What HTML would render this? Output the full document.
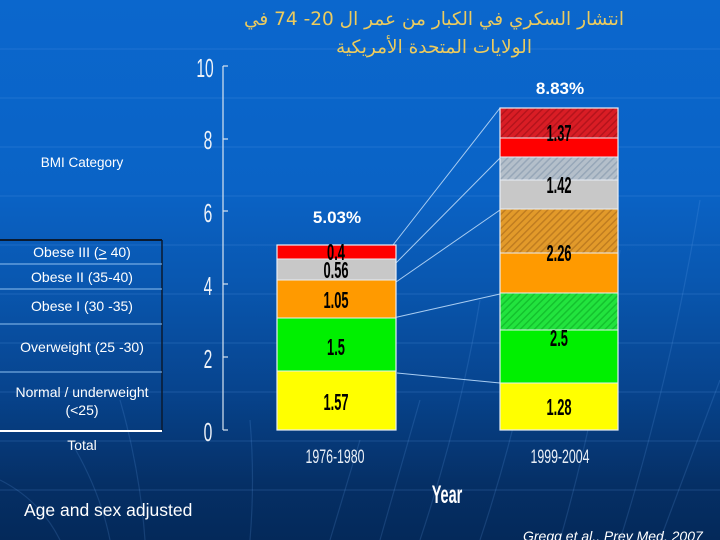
<!DOCTYPE html>
<html><head><meta charset="utf-8">
<style>
html,body{margin:0;padding:0;}
body{width:720px;height:540px;overflow:hidden;position:relative;
background:linear-gradient(180deg,#0b67cd 0%,#0a63c6 35%,#0957b0 52%,#07448e 72%,#052f65 90%,#04295a 100%);
font-family:"Liberation Sans",sans-serif;}
.ar{position:absolute;direction:rtl;text-align:center;color:#eccb5e;font-family:"DejaVu Sans","Liberation Sans",sans-serif;white-space:nowrap;}
svg{position:absolute;left:0;top:0;}
</style></head><body>
<svg width="720" height="540" viewBox="0 0 720 540" xmlns="http://www.w3.org/2000/svg">
<defs>
<pattern id="hr" width="5" height="5" patternUnits="userSpaceOnUse" patternTransform="rotate(45)">
<rect width="5" height="5" fill="#d91d25"/><rect width="1.5" height="5" fill="#b5141c"/></pattern>
<pattern id="hg" width="5" height="5" patternUnits="userSpaceOnUse" patternTransform="rotate(45)">
<rect width="5" height="5" fill="#b4bfca"/><rect width="1.5" height="5" fill="#97a7b8"/></pattern>
<pattern id="ho" width="5" height="5" patternUnits="userSpaceOnUse" patternTransform="rotate(45)">
<rect width="5" height="5" fill="#e29a2a"/><rect width="1.5" height="5" fill="#c07d20"/></pattern>
<pattern id="hgr" width="5" height="5" patternUnits="userSpaceOnUse" patternTransform="rotate(45)">
<rect width="5" height="5" fill="#22e33e"/><rect width="1.5" height="5" fill="#14c22e"/></pattern>
</defs>
<!-- faint background grid -->
<g stroke="#6aa6ec" stroke-opacity="0.22" stroke-width="1">
<line x1="0" y1="49" x2="720" y2="49"/><line x1="0" y1="98" x2="720" y2="98"/>
<line x1="0" y1="147" x2="720" y2="147"/><line x1="0" y1="196" x2="720" y2="196"/>
<line x1="0" y1="245" x2="720" y2="245"/><line x1="0" y1="294" x2="720" y2="294"/>
<line x1="0" y1="343" x2="720" y2="343"/><line x1="0" y1="392" x2="720" y2="392"/>
<line x1="0" y1="441" x2="720" y2="441"/><line x1="0" y1="490" x2="720" y2="490"/>
</g>
<g fill="none" stroke="#6aa6ec" stroke-opacity="0.18" stroke-width="1.2">
<path d="M0 480 Q40 500 60 540"/>
<path d="M70 440 Q100 490 110 540"/>
<path d="M120 400 Q140 470 145 540"/>
<path d="M250 420 Q255 480 250 540"/>
<path d="M360 440 Q345 490 330 540"/>
<path d="M420 400 Q400 470 380 540"/>
<path d="M480 300 Q460 420 420 540"/>
<path d="M540 300 Q520 420 480 540"/>
<path d="M620 250 Q600 400 560 540"/>
<path d="M700 200 Q670 380 620 540"/>
<path d="M720 380 Q690 460 660 540"/>
</g>

<!-- left table -->
<line x1="0" y1="240" x2="162" y2="240" stroke="#0a1a30" stroke-width="2"/>
<line x1="162" y1="240" x2="162" y2="431" stroke="#0a1a30" stroke-width="1.5"/>
<g stroke="#8ec0f0" stroke-width="1">
<line x1="0" y1="264" x2="162" y2="264"/>
<line x1="0" y1="289" x2="162" y2="289"/>
<line x1="0" y1="324" x2="162" y2="324"/>
<line x1="0" y1="372" x2="162" y2="372"/>
</g>
<line x1="0" y1="431" x2="162" y2="431" stroke="#ffffff" stroke-width="2"/>
<g fill="#ffffff" font-family="Liberation Sans, sans-serif" font-size="14" text-anchor="middle">
<text x="82" y="167" font-size="13.5">BMI Category</text>
<text x="82" y="257">Obese III (<tspan text-decoration="underline">&gt;</tspan> 40)</text>
<text x="82" y="282">Obese II (35-40)</text>
<text x="82" y="311">Obese I (30 -35)</text>
<text x="82" y="352">Overweight (25 -30)</text>
<text x="82" y="397">Normal / underweight</text>
<text x="82" y="415">(&lt;25)</text>
<text x="82" y="450">Total</text>
</g>

<!-- axis -->
<line x1="223" y1="66" x2="223" y2="430" stroke="#d8e4f0" stroke-width="1.2"/>
<g stroke="#d8e4f0" stroke-width="1.2">
<line x1="223" y1="66" x2="228" y2="66"/><line x1="223" y1="139" x2="228" y2="139"/>
<line x1="223" y1="211" x2="228" y2="211"/><line x1="223" y1="284" x2="228" y2="284"/>
<line x1="223" y1="357" x2="228" y2="357"/><line x1="223" y1="430" x2="228" y2="430"/>
</g>
<g fill="#eef2f8" font-family="Liberation Sans, sans-serif" font-size="26" text-anchor="middle">
<text transform="translate(205,77) scale(0.6,1)">10</text>
<text transform="translate(208,149) scale(0.6,1)">8</text>
<text transform="translate(208,222) scale(0.6,1)">6</text>
<text transform="translate(208,295) scale(0.6,1)">4</text>
<text transform="translate(208,368) scale(0.6,1)">2</text>
<text transform="translate(208,441) scale(0.6,1)">0</text>
</g>

<!-- connector lines -->
<g stroke="#a9cdf2" stroke-width="1">
<line x1="393" y1="245" x2="500" y2="108"/>
<line x1="391" y1="268" x2="500" y2="158"/>
<line x1="396" y1="282" x2="500" y2="210"/>
<line x1="393" y1="318" x2="500" y2="294"/>
<line x1="397" y1="373" x2="500" y2="383"/>
</g>

<!-- bar 1 -->
<rect x="277" y="371" width="119" height="59" fill="#ffff00"/>
<rect x="277" y="318" width="119" height="53" fill="#00f000"/>
<rect x="277" y="280" width="119" height="38" fill="#ff9a00"/>
<rect x="277" y="259" width="119" height="21" fill="#c8c8c8"/>
<rect x="277" y="245" width="119" height="14" fill="#ff0000"/>
<g stroke="#e8eef6" stroke-width="1">
<line x1="277" y1="371" x2="396" y2="371"/><line x1="277" y1="318" x2="396" y2="318"/>
<line x1="277" y1="280" x2="396" y2="280"/><line x1="277" y1="259" x2="396" y2="259"/>
</g>
<rect x="277" y="245" width="119" height="185" fill="none" stroke="#e8eef6" stroke-width="1.2"/>

<!-- bar 2 -->
<rect x="500" y="383" width="118" height="47" fill="#ffff00"/>
<rect x="500" y="330" width="118" height="53" fill="#00f000"/>
<rect x="500" y="293" width="118" height="37" fill="url(#hgr)"/>
<rect x="500" y="253" width="118" height="40" fill="#ff9a00"/>
<rect x="500" y="209" width="118" height="44" fill="url(#ho)"/>
<rect x="500" y="180" width="118" height="29" fill="#c8c8c8"/>
<rect x="500" y="157" width="118" height="23" fill="url(#hg)"/>
<rect x="500" y="138" width="118" height="19" fill="#ff0000"/>
<rect x="500" y="108" width="118" height="30" fill="url(#hr)"/>
<g stroke="#e8eef6" stroke-width="1">
<line x1="500" y1="383" x2="618" y2="383"/><line x1="500" y1="330" x2="618" y2="330"/>
<line x1="500" y1="293" x2="618" y2="293"/><line x1="500" y1="253" x2="618" y2="253"/>
<line x1="500" y1="209" x2="618" y2="209"/><line x1="500" y1="180" x2="618" y2="180"/>
<line x1="500" y1="157" x2="618" y2="157"/><line x1="500" y1="138" x2="618" y2="138"/>
</g>
<rect x="500" y="108" width="118" height="322" fill="none" stroke="#e8eef6" stroke-width="1.2"/>

<!-- bar labels -->
<g fill="#000000" font-family="Liberation Sans, sans-serif" font-weight="bold" font-size="23" text-anchor="middle">
<text transform="translate(336,410) scale(0.56,1)">1.57</text>
<text transform="translate(336,355) scale(0.56,1)">1.5</text>
<text transform="translate(336,308) scale(0.56,1)">1.05</text>
<text transform="translate(336,278) scale(0.56,1)">0.56</text>
<text transform="translate(336,260) scale(0.56,1)">0.4</text>
<text transform="translate(559,415) scale(0.56,1)">1.28</text>
<text transform="translate(559,346) scale(0.56,1)">2.5</text>
<text transform="translate(559,261) scale(0.56,1)">2.26</text>
<text transform="translate(559,193) scale(0.56,1)">1.42</text>
<text transform="translate(559,141) scale(0.56,1)">1.37</text>
</g>
<g fill="#ffffff" font-family="Liberation Sans, sans-serif" font-weight="bold" font-size="17" text-anchor="middle">
<text x="337" y="223">5.03%</text>
<text x="560" y="94">8.83%</text>
</g>

<!-- category labels -->
<g fill="#e8eef6" font-family="Liberation Sans, sans-serif" font-size="19" text-anchor="middle">
<text transform="translate(335,463) scale(0.65,1)">1976-1980</text>
<text transform="translate(560,463) scale(0.65,1)">1999-2004</text>
</g>
<text transform="translate(447,503) scale(0.58,1)" fill="#ffffff" font-family="Liberation Sans, sans-serif" font-weight="bold" font-size="25" text-anchor="middle">Year</text>

<text x="24" y="516" fill="#ffffff" font-family="Liberation Sans, sans-serif" font-size="17.5">Age and sex adjusted</text>
<text x="523" y="541" fill="#ffffff" font-family="Liberation Sans, sans-serif" font-style="italic" font-size="14">Gregg et al., Prev Med, 2007</text>
</svg>

<div class="ar" style="left:234px;top:8px;width:400px;font-size:18.5px;line-height:24px;">انتشار السكري في الكبار من عمر ال 20- 74 في</div>
<div class="ar" style="left:234px;top:36px;width:400px;font-size:18.5px;line-height:24px;">الولايات المتحدة الأمريكية</div>
</body></html>
